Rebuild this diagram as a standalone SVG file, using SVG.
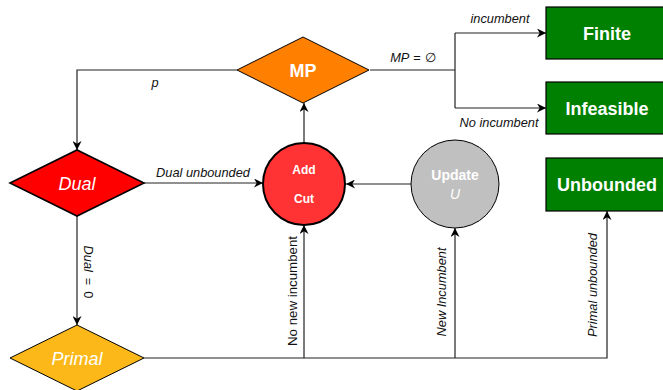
<svg xmlns="http://www.w3.org/2000/svg" width="663" height="390" viewBox="0 0 663 390">
  <defs>
    <marker id="arr" viewBox="0 0 10 10" refX="10" refY="5" markerWidth="9" markerHeight="9" markerUnits="userSpaceOnUse" orient="auto">
      <path d="M0,0 L10,5 L0,10 L3,5 Z" fill="#000"/>
    </marker>
  </defs>
  <style>
    .edge { fill: none; stroke: #222; stroke-width: 1.2; }
    .lbl { font-family: "Liberation Sans", Arial, sans-serif; font-size: 12.8px; font-style: italic; fill: #111; }
    .lblu { font-family: "Liberation Sans", Arial, sans-serif; font-size: 13.3px; fill: #111; }
    .up { font-style: normal; }
    .ntxt { font-family: "Liberation Sans", Arial, sans-serif; fill: #fff; text-anchor: middle; dominant-baseline: central; }
    .bold { font-weight: bold; }
    .it { font-style: italic; }
    .box { fill: #008000; stroke: #000; stroke-width: 1.2; }
  </style>

  <!-- connectors -->
  <g id="connectors">
    <path class="edge" d="M237,70 H77 V150" marker-end="url(#arr)"/>
    <path class="edge" d="M370,70 H455"/>
    <path class="edge" d="M455,33 V108"/>
    <path class="edge" d="M455,33 H546" marker-end="url(#arr)"/>
    <path class="edge" d="M455,108 H546" marker-end="url(#arr)"/>
    <path class="edge" d="M144,183 H263" marker-end="url(#arr)"/>
    <path class="edge" d="M77,216 V325" marker-end="url(#arr)"/>
    <path class="edge" d="M304,143 V103" marker-end="url(#arr)"/>
    <path class="edge" d="M411,184 H346" marker-end="url(#arr)"/>
    <path class="edge" d="M144,358 H607 V211" marker-end="url(#arr)"/>
    <path class="edge" d="M304,358 V225" marker-end="url(#arr)"/>
    <path class="edge" d="M455,358 V228" marker-end="url(#arr)"/>

    <text class="lbl" x="155" y="87" text-anchor="middle">p</text>
    <text class="lbl" x="413" y="62" text-anchor="middle">MP<tspan class="up" dx="4">=</tspan><tspan class="up" dx="4">∅</tspan></text>
    <text class="lbl" x="500" y="23" text-anchor="middle">incumbent</text>
    <text class="lbl" x="499" y="127" text-anchor="middle">No incumbent</text>
    <text class="lbl" x="203" y="177" text-anchor="middle">Dual unbounded</text>
    <text class="lbl" transform="translate(84,272) rotate(90)" text-anchor="middle">Dual<tspan class="up" dx="6">=</tspan><tspan class="up" dx="6">0</tspan></text>
    <text class="lblu" transform="translate(297,291) rotate(-90)" text-anchor="middle">No new incumbent</text>
    <text class="lbl" transform="translate(446,292) rotate(-90)" text-anchor="middle">New Incumbent</text>
    <text class="lbl" transform="translate(597,285) rotate(-90)" text-anchor="middle">Primal unbounded</text>
  </g>

  <g id="mp">
    <polygon points="237,70 303,37 369,70 303,103" fill="#ff8000" stroke="#000" stroke-width="1"/>
    <text class="ntxt bold" x="303" y="71" font-size="18">MP</text>
  </g>

  <g id="dual">
    <polygon points="10,183 77,150 144,183 77,216" fill="#ff0000" stroke="#000" stroke-width="1.6"/>
    <text class="ntxt it" x="77" y="184" font-size="18">Dual</text>
  </g>

  <g id="primal">
    <polygon points="10,358 77,325 144,358 77,391" fill="#fbb818" stroke="#000" stroke-width="1"/>
    <text class="ntxt it" x="77" y="359" font-size="18">Primal</text>
  </g>

  <g id="addcut">
    <circle cx="304" cy="184" r="41" fill="#ff3333" stroke="#000" stroke-width="2"/>
    <text class="ntxt bold" x="304" y="170" font-size="12">Add</text>
    <text class="ntxt bold" x="304" y="199" font-size="12">Cut</text>
  </g>

  <g id="update">
    <circle cx="455" cy="184" r="44" fill="#c0c0c0" stroke="#000" stroke-width="1"/>
    <text class="ntxt bold" x="455" y="175" font-size="14">Update</text>
    <text class="ntxt it" x="455" y="194" font-size="14">U</text>
  </g>

  <g id="finite">
    <rect class="box" x="546" y="7" width="122" height="52"/>
    <text class="ntxt bold" x="607" y="34" font-size="18">Finite</text>
  </g>

  <g id="infeasible">
    <rect class="box" x="546" y="82" width="122" height="52"/>
    <text class="ntxt bold" x="607" y="109" font-size="18">Infeasible</text>
  </g>

  <g id="unbounded">
    <rect class="box" x="546" y="158" width="122" height="53"/>
    <text class="ntxt bold" x="607" y="185" font-size="18">Unbounded</text>
  </g>
</svg>
